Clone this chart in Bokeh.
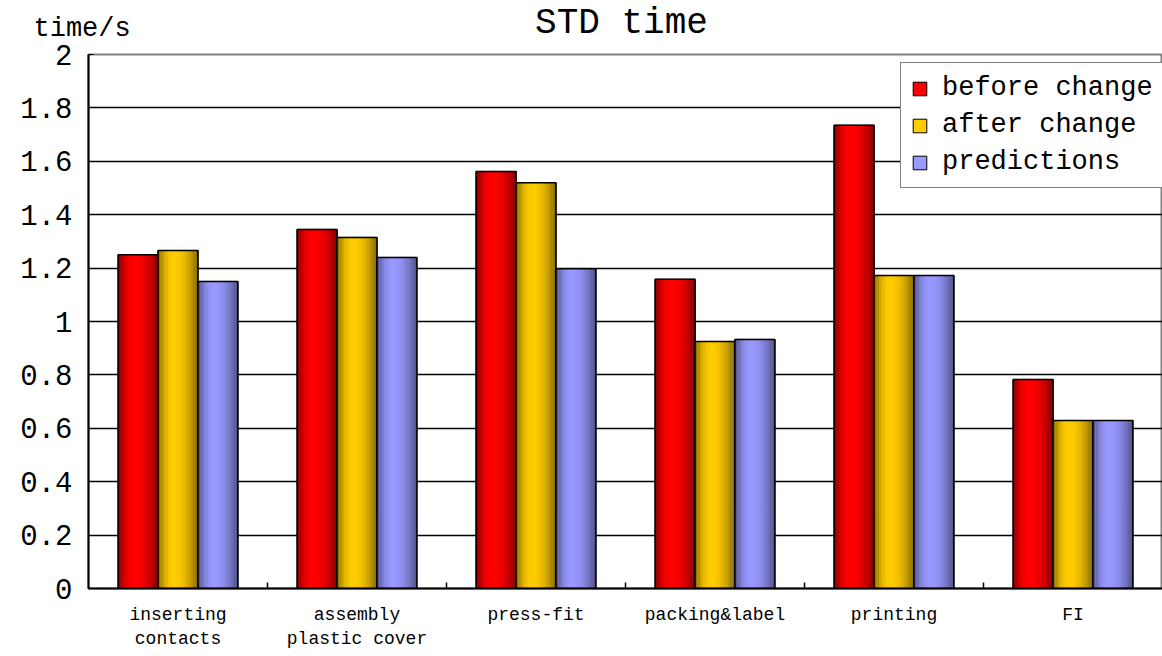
import numpy as np
from bokeh.plotting import figure
from bokeh.layouts import column
from bokeh.models import Range1d, FixedTicker, Label, Legend, LegendItem, ColumnDataSource
from bokeh.embed import file_html
from bokeh.resources import INLINE

categories = ["inserting\ncontacts", "assembly\nplastic cover", "press-fit",
              "packing&label", "printing", "FI"]
series_names = ["before change", "after change", "predictions"]
before = [1.25, 1.345, 1.562, 1.158, 1.735, 0.783]
after = [1.266, 1.315, 1.52, 0.925, 1.172, 0.629]
predictions = [1.15, 1.24, 1.198, 0.933, 1.172, 0.629]
ytick_values = [0, 0.2, 0.4, 0.6, 0.8, 1.0, 1.2, 1.4, 1.6, 1.8, 2.0]
ytick_labels = ["0", "0.2", "0.4", "0.6", "0.8", "1", "1.2", "1.4", "1.6", "1.8", "2"]
title_text = "STD time"
yunit_text = "time/s"

FONT = "Liberation Mono"
base_colors = [(255, 0, 0), (255, 204, 0), (153, 153, 255)]
series_vals = [before, after, predictions]

W = 1162
TOP_H = 44
H = 656

# header strip holding the title and the unit label
head = figure(width=W, height=TOP_H, output_backend="svg", toolbar_location=None,
              x_range=Range1d(0, W), y_range=Range1d(0, TOP_H),
              min_border=0, min_border_left=0, min_border_right=0,
              min_border_top=0, min_border_bottom=0)
head.axis.visible = False
head.grid.visible = False
head.outline_line_color = None
head.background_fill_color = "white"
head.border_fill_color = "white"
head.add_layout(Label(x=621, y=1, text=title_text, text_align="center",
                      text_baseline="bottom", text_font=FONT,
                      text_font_size="36px", text_color="black"))
head.add_layout(Label(x=33, y=1, text=yunit_text, text_align="left",
                      text_baseline="bottom", text_font=FONT,
                      text_font_size="27px", text_color="black"))

p = figure(width=W, height=H - TOP_H, output_backend="svg", toolbar_location=None,
           x_range=Range1d(0, len(categories)), y_range=Range1d(0, 2),
           min_border_left=88, min_border_right=0, min_border_top=10, min_border_bottom=68)
if hasattr(head, "frame_align"):
    head.frame_align = False
    p.frame_align = False
p.background_fill_color = "white"
p.border_fill_color = "white"
p.outline_line_color = "#808080"
p.outline_line_width = 2

# grid
p.xgrid.visible = False
p.ygrid.ticker = FixedTicker(ticks=ytick_values)
p.ygrid.grid_line_color = "black"
p.ygrid.grid_line_width = 1.5

# y axis
p.yaxis.ticker = FixedTicker(ticks=ytick_values)
p.yaxis.major_label_overrides = {v: l for v, l in zip(ytick_values, ytick_labels)}
p.yaxis.major_label_text_font = FONT
p.yaxis.major_label_text_font_size = "29px"
p.yaxis.major_label_text_color = "black"
p.yaxis.major_label_standoff = 16
p.yaxis.axis_line_color = "black"
p.yaxis.axis_line_width = 2
p.yaxis.major_tick_in = 5
p.yaxis.major_tick_out = 0
p.yaxis.major_tick_line_color = "black"
p.yaxis.minor_tick_line_color = None

# x axis
centers = [i + 0.5 for i in range(len(categories))]
bounds = [i for i in range(1, len(categories))]
p.xaxis.ticker = FixedTicker(ticks=centers, minor_ticks=bounds)
p.xaxis.major_label_overrides = {c: lab for c, lab in zip(centers, categories)}
p.xaxis.major_label_text_font = FONT
p.xaxis.major_label_text_font_size = "18px"
p.xaxis.major_label_text_color = "black"
p.xaxis.major_label_standoff = 16
p.xaxis.major_tick_in = 0
p.xaxis.major_tick_out = 0
p.xaxis.minor_tick_in = 6
p.xaxis.minor_tick_out = 0
p.xaxis.minor_tick_line_color = "black"
p.xaxis.minor_tick_line_width = 1.5
p.xaxis.axis_line_color = "black"
p.xaxis.axis_line_width = 2

bw = 0.223
offsets = [-bw, 0, bw]
nslices = 16

def shade(t):
    if t < 0.4:
        return 1 - 0.5 * ((0.4 - t) / 0.4) ** 2
    return 1 - 0.5 * ((t - 0.4) / 0.6) ** 2

legend_items = []
for s, (vals, col, name, off) in enumerate(zip(series_vals, base_colors, series_names, offsets)):
    xs = [c + off for c in centers]
    hexcol = "#%02x%02x%02x" % col
    base = p.vbar(x=xs, top=vals, width=bw, bottom=0, fill_color=hexcol, line_color="black")
    sx, st, sc = [], [], []
    sw = bw / nslices
    for x0, v in zip(xs, vals):
        for k in range(nslices):
            t = (k + 0.5) / nslices
            b = shade(t)
            sx.append(x0 - bw / 2 + sw * (k + 0.5))
            st.append(v)
            sc.append("#%02x%02x%02x" % tuple(int(round(ch * b)) for ch in col))
    src = ColumnDataSource(dict(x=sx, top=st, color=sc))
    p.vbar(x="x", top="top", bottom=0, width=sw * 1.1, fill_color="color", line_color=None, source=src)
    p.vbar(x=xs, top=vals, width=bw, bottom=0, fill_color=None, line_color="black", line_width=1.5)
    legend_items.append(LegendItem(label=name, renderers=[base]))

legend = Legend(items=legend_items, location=(812, 400))
legend.label_text_font = FONT
legend.label_text_font_size = "27px"
legend.label_text_color = "black"
legend.glyph_width = 17
legend.glyph_height = 17
legend.label_height = 30
legend.spacing = 7
legend.padding = 10
legend.label_standoff = 14
legend.border_line_color = "black"
legend.border_line_width = 1.5
legend.background_fill_color = "white"
legend.background_fill_alpha = 1
legend.margin = 0
p.add_layout(legend, "center")

layout = column(head, p, spacing=0)
open("out.html", "w").write(file_html(layout, INLINE))
